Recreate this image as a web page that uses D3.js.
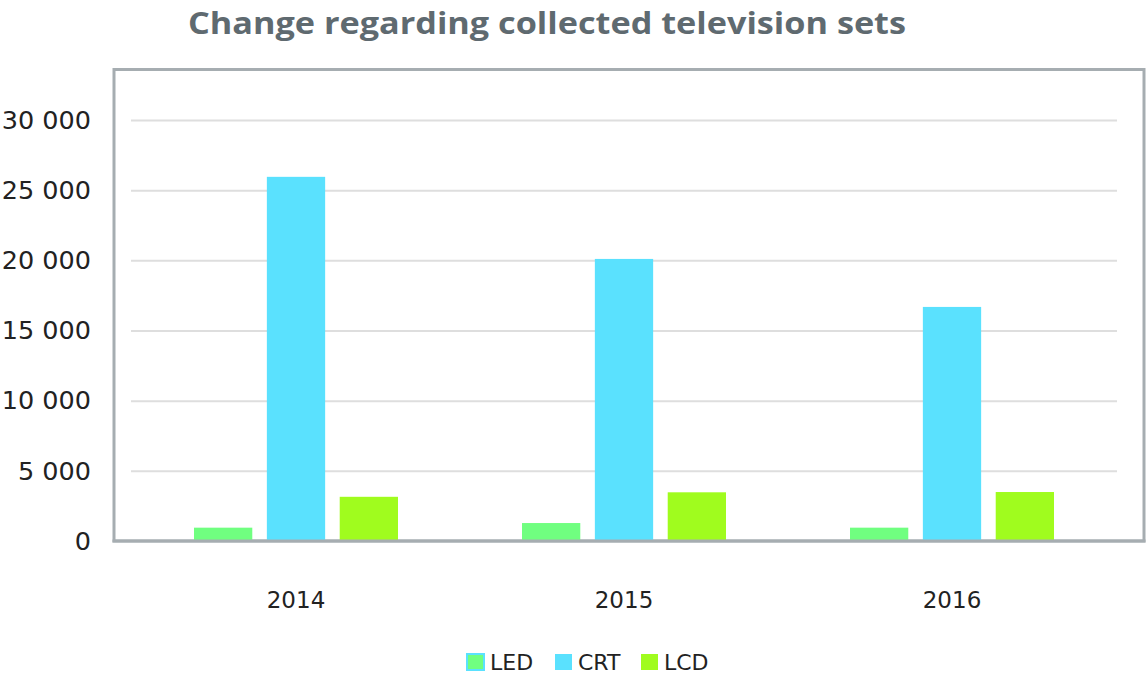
<!DOCTYPE html>
<html><head><meta charset="utf-8">
<script src="https://cdn.jsdelivr.net/npm/d3@7"></script>
<style>body{margin:0;background:#fff}svg{display:block}text{font-family:"DejaVu Sans",sans-serif}</style>
</head><body><svg id="c" width="1147" height="674"></svg>
<script>
const title = "Change regarding collected television sets";
const years = ["2014", "2015", "2016"];
const seriesNames = ["LED", "CRT", "LCD"];
const LED = [950, 1280, 950];
const CRT = [25950, 20100, 16680];
const LCD = [3150, 3470, 3490];
const yTicks = [0, 5000, 10000, 15000, 20000, 25000, 30000];
const colors = {LED: "#70ff80", CRT: "#5ae1fe", LCD: "#a0fc1e"};
const values = {LED, CRT, LCD};

const svg = d3.select("#c");
const x0 = d3.scaleBand().domain(years).range([132, 1116]);
const x1 = d3.scaleBand().domain(seriesNames).range([62, 266]).paddingInner(0.2).paddingOuter(0);
const y = d3.scaleLinear().domain([0, 30000]).range([541, 120]);
const fmt = v => d3.format(",")(v).replace(/,/g, " ");

// title
svg.append("text").attr("x", 547).attr("y", 34).attr("text-anchor", "middle")
  .attr("font-size", 31).attr("font-weight", "bold").attr("fill", "#5f6a70")
  .style("font-family", "'Open Sans', sans-serif")
  .attr("textLength", 718).attr("lengthAdjust", "spacingAndGlyphs").text(title);

// frame
svg.append("rect").attr("x", 114).attr("y", 69.5).attr("width", 1030).attr("height", 471.5)
  .attr("fill", "none").attr("stroke", "#a6adb1").attr("stroke-width", 3);

// gridlines
const grid = svg.append("g").call(d3.axisLeft(y).tickValues(yTicks.filter(d => d > 0)).tickSize(-986).tickFormat(""))
  .attr("transform", "translate(1117,0)");
grid.select(".domain").remove();
grid.selectAll("line").attr("stroke", "#dedede").attr("stroke-width", 2).attr("transform", "scale(-1,1)");

// y axis labels
const ya = svg.append("g").attr("transform", "translate(91,0)")
  .call(d3.axisLeft(y).tickValues(yTicks).tickSize(0).tickPadding(0).tickFormat(fmt));
ya.select(".domain").remove();
ya.selectAll("text").attr("font-size", 25.5).attr("fill", "#222").style("font-family", "DejaVu Sans, sans-serif");

// bars
const g = svg.append("g");
years.forEach((yr, i) => {
  seriesNames.forEach(s => {
    g.append("rect")
      .attr("x", x0(yr) + x1(s)).attr("width", x1.bandwidth())
      .attr("y", y(values[s][i])).attr("height", y(0) - y(values[s][i]))
      .attr("fill", colors[s]);
  });
});
// bottom frame line on top
svg.append("line").attr("x1", 112.5).attr("x2", 1145.5).attr("y1", 541).attr("y2", 541)
  .attr("stroke", "#a6adb1").attr("stroke-width", 3);

// x axis labels
const xa = svg.append("g").attr("transform", "translate(0,600)")
  .call(d3.axisBottom(x0).tickSize(0).tickPadding(0));
xa.select(".domain").remove();
xa.selectAll("text").attr("font-size", 23).attr("fill", "#222").attr("dy", "0.35em").style("font-family", "DejaVu Sans, sans-serif");

// legend
const legX = [467, 555, 641];
seriesNames.forEach((s, i) => {
  const lg = svg.append("g").attr("transform", `translate(${legX[i]},654)`);
  lg.append("rect").attr("x", 0).attr("y", 0).attr("width", 17).attr("height", 16)
    .attr("fill", colors[s]).attr("stroke", i === 0 ? colors.CRT : "none").attr("stroke-width", 2);
  lg.append("text").attr("x", 23).attr("y", 16).attr("font-size", 22).attr("fill", "#222").text(s);
});
</script></body></html>
